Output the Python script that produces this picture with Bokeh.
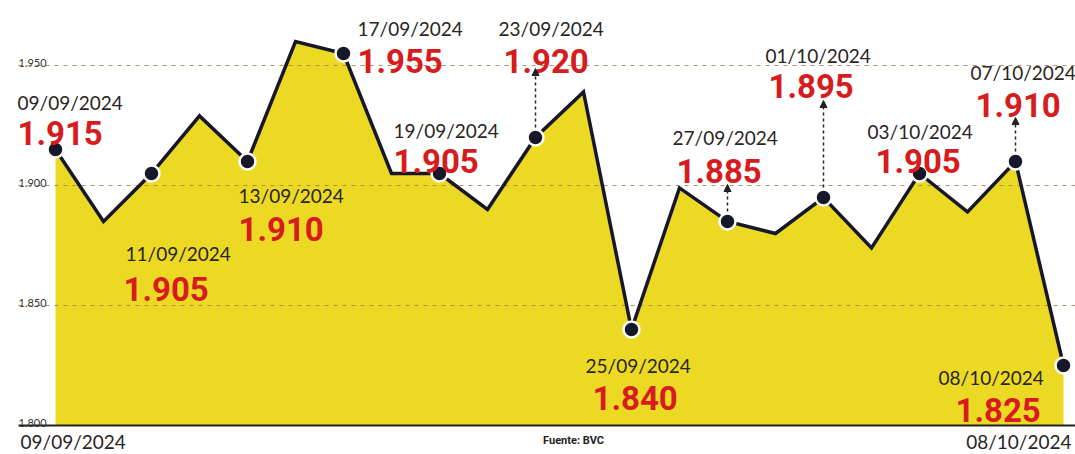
from bokeh.plotting import figure
from bokeh.models import Range1d, ColumnDataSource, Arrow, NormalHead
from bokeh.core.properties import value
from bokeh.embed import file_html
from bokeh.resources import INLINE

# ---------------- data ----------------
dates = ["09/09/2024", "10/09/2024", "11/09/2024", "12/09/2024", "13/09/2024",
         "16/09/2024", "17/09/2024", "18/09/2024", "19/09/2024", "20/09/2024",
         "23/09/2024", "24/09/2024", "25/09/2024", "26/09/2024", "27/09/2024",
         "30/09/2024", "01/10/2024", "02/10/2024", "03/10/2024", "04/10/2024",
         "07/10/2024", "08/10/2024"]
prices = [1915, 1885, 1905, 1929, 1910, 1960, 1955, 1905, 1905, 1890, 1920,
          1939, 1840, 1899, 1885, 1880, 1895, 1874, 1905, 1889, 1910, 1825]
labeled_dates = ["09/09/2024", "11/09/2024", "13/09/2024", "17/09/2024",
                 "19/09/2024", "23/09/2024", "25/09/2024", "27/09/2024",
                 "01/10/2024", "03/10/2024", "07/10/2024", "08/10/2024"]
arrow_dates = ["23/09/2024", "27/09/2024", "01/10/2024", "07/10/2024"]
tick_values = [1800, 1850, 1900, 1950]
tick_labels = ["1.800", "1.850", "1.900", "1.950"]
source_text = "Fuente: BVC"

# ---------------- layout / style (pixel offsets) ----------------
# date label offset (dx, dy), value label offset (dx, dy) relative to the dot
label_offsets = {
    "09/09/2024": (-38, -47, -38, -17),
    "11/09/2024": (-26, 80, -28, 115),
    "13/09/2024": (-9, 34, -9, 67),
    "17/09/2024": (14, -25, 14, 7),
    "19/09/2024": (-46, -43, -46, -13),
    "23/09/2024": (-37, -109, -32, -77),
    "25/09/2024": (-46, 36, -39, 68),
    "27/09/2024": (-55, -84, -51, -51),
    "01/10/2024": (-58, -142, -55, -112),
    "03/10/2024": (-52, -42, -44, -13),
    "07/10/2024": (-45, -89, -40, -57),
    "08/10/2024": (-125, 12, -108, 44),
}
arrow_len_px = {"23/09/2024": 69, "27/09/2024": 37, "01/10/2024": 97, "07/10/2024": 44}

W, H = 1075, 454
PX_PER_IDX = 48.0
PPU = 2.4  # pixels per price unit
x0 = -55 / PX_PER_IDX
x1 = x0 + W / PX_PER_IDX
y_top = 1900 + 185 / PPU
y_bot = y_top - H / PPU
grid_start = x0 + 18 / PX_PER_IDX

YELLOW = "#ebd923"
RED = "#d71c20"
DARK = "#17172a"
TXT = "#2a2424"
GRID = "#a8845a"


def fmt(v):
    return f"{v // 1000}.{v % 1000:03d}"


idx = list(range(len(dates)))
src = ColumnDataSource(dict(i=idx, price=prices))

lab_i = [dates.index(d) for d in labeled_dates]
lab_p = [prices[k] for k in lab_i]
lab_src = ColumnDataSource(dict(
    i=lab_i, price=lab_p, date=labeled_dates,
    val=[fmt(v) for v in lab_p],
    ddx=[label_offsets[d][0] for d in labeled_dates],
    ddy=[label_offsets[d][1] for d in labeled_dates],
    vdx=[label_offsets[d][2] for d in labeled_dates],
    vdy=[label_offsets[d][3] for d in labeled_dates],
))

p = figure(width=W, height=H, x_range=Range1d(x0, x1), y_range=Range1d(y_bot, y_top),
           output_backend="svg", toolbar_location=None,
           x_axis_location=None, y_axis_location=None, min_border=0,
           outline_line_color=None, background_fill_color="white",
           border_fill_color="white")
p.grid.visible = False

# area
p.varea(x="i", y1=tick_values[0], y2="price", source=src, fill_color=YELLOW)

# gridlines (drawn over the area, under the line)
gy = tick_values[1:]
p.segment(x0=[grid_start] * len(gy), y0=gy, x1=[x1] * len(gy), y1=gy,
          line_color=GRID, line_dash="4 5", line_width=1, line_alpha=0.9)

# baseline axis
p.segment(x0=[grid_start], y0=[tick_values[0]], x1=[x1], y1=[tick_values[0]],
          line_color="#222222", line_width=2)

# tick labels
p.text(x=[0] * len(tick_values), y=tick_values, text=tick_labels,
       x_offset=-37, y_offset=-3, text_font=value("Lato"), text_font_size="11px",
       text_color="#333333", text_baseline="alphabetic", text_align="left")

# arrows
for d in arrow_dates:
    k = dates.index(d)
    v = prices[k]
    p.add_layout(Arrow(end=NormalHead(size=7, fill_color="#222222", line_color="#222222"),
                       x_start=k, y_start=v + 10 / PPU, x_end=k,
                       y_end=v + arrow_len_px[d] / PPU,
                       line_color="#222222", line_width=1.5, line_dash="3 3"))

# line
p.line(x="i", y="price", source=src, line_color=DARK, line_width=3.5, line_join="miter")

# dots
p.scatter(x="i", y="price", source=lab_src, size=16, fill_color=DARK,
          line_color="white", line_width=2.5)

# labels
p.text(x="i", y="price", text="date", x_offset="ddx", y_offset="ddy", source=lab_src,
       text_font=value("Lato"), text_font_size="19px", text_color=TXT,
       text_baseline="alphabetic", text_align="left")
p.text(x="i", y="price", text="val", x_offset="vdx", y_offset="vdy", source=lab_src,
       text_font=value("Roboto"), text_font_size="33px", text_font_style="bold",
       text_color=RED, text_baseline="alphabetic", text_align="left")

# bottom texts
p.text(x=[0], y=[tick_values[0]], text=[dates[0]], x_offset=-35, y_offset=16,
       text_font=value("Lato"), text_font_size="19px", text_color=TXT,
       text_baseline="alphabetic", text_align="left")
p.text(x=[len(dates) - 1], y=[tick_values[0]], text=[dates[-1]], x_offset=8, y_offset=16,
       text_font=value("Lato"), text_font_size="19px", text_color=TXT,
       text_baseline="alphabetic", text_align="right")
p.text(x=[(len(dates) - 1) / 2], y=[tick_values[0]], text=[source_text], x_offset=14,
       y_offset=15, text_font=value("Roboto"), text_font_size="11px",
       text_font_style="bold", text_color="#222222", text_baseline="alphabetic",
       text_align="center")

open("out.html", "w").write(file_html(p, INLINE))
